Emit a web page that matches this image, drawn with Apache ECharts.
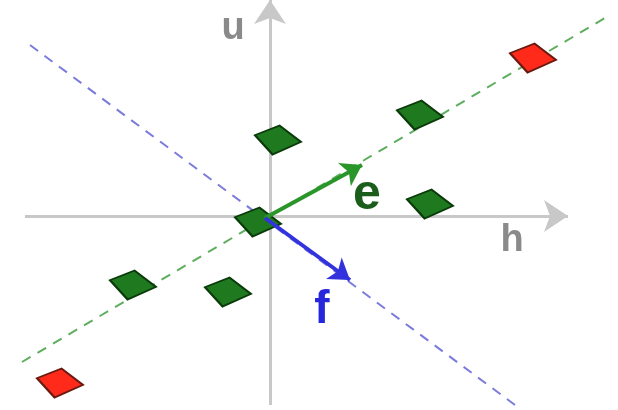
<!DOCTYPE html>
<html>
<head>
<meta charset="utf-8">
<script src="https://cdn.jsdelivr.net/npm/echarts@6/dist/echarts.min.js"></script>
<style>
  html, body { margin: 0; padding: 0; background: #fff; }
  #chart { width: 618px; height: 410px; }
</style>
</head>
<body>
<div id="chart"></div>
<script>
// data points (h, u)
const greenPoints = [[3.0, 2.02], [0.16, 1.52], [3.2, 0.24], [-0.24, -0.12], [-2.74, -1.38], [-0.84, -1.52]];
const redPoints = [[5.26, 3.16], [-4.2, -3.34]];
// dashed lines through the origin
const eLine = [[-4.96, -2.92], [6.7, 3.96]];
const fLine = [[-4.8, 3.42], [4.9, -3.78]];
// h and u axes
const hAxis = [[-4.9, 0], [5.96, 0]];
const uAxis = [[0, -3.78], [0, 4.32]];
// direction vectors
const origin = [-0.1, -0.04];
const eVec = [1.84, 1.02];
const fVec = [1.6, -1.28];
// labels
const labelNames = ["u", "h", "e", "f"];
const labelPos = [[-0.74, 3.74], [4.84, -0.5], [1.94, 0.42], [1.04, -1.88]];
const labelColors = ["#8a8a8a", "#8a8a8a", "#1b5e1b", "#2626dc"];
const labelSizes = [38, 38, 50, 46];

const chart = echarts.init(document.getElementById("chart"));

const diamond = "path://M0,10 L25,0 L47,17 L18,30 Z";

chart.setOption({
  backgroundColor: "#fff",
  animation: false,
  grid: { left: 0, right: 0, top: 0, bottom: 0 },
  xAxis: {
    type: "value", min: -5.4, max: 6.96, show: false,
  },
  yAxis: {
    type: "value", min: -3.88, max: 4.32, show: false,
  },
  series: [
    {
      type: "lines", coordinateSystem: "cartesian2d", z: 1,
      symbol: ["none", "arrow"], symbolSize: [18, 24],
      data: [{ coords: hAxis }, { coords: uAxis }],
      lineStyle: { color: "#c8c8c8", width: 3, opacity: 1 },
    },
    {
      type: "line", data: eLine, symbol: "none", clip: false, z: 2,
      lineStyle: { color: "#5fae5f", width: 2, type: [10, 8] },
    },
    {
      type: "line", data: fLine, symbol: "none", clip: false, z: 2,
      lineStyle: { color: "#7b7bdc", width: 2, type: [10, 8] },
    },
    {
      type: "scatter", data: greenPoints, symbol: diamond, symbolSize: [46, 29], z: 3,
      itemStyle: { color: "#1f7a1f", borderColor: "#0b3a0b", borderWidth: 2, opacity: 1 },
    },
    {
      type: "scatter", data: redPoints, symbol: diamond, symbolSize: [46, 29], z: 3,
      itemStyle: { color: "#ff2a1a", borderColor: "#6a1a10", borderWidth: 2, opacity: 1 },
    },
    {
      type: "lines", coordinateSystem: "cartesian2d", z: 4,
      symbol: ["none", "arrow"], symbolSize: 20,
      data: [
        { coords: [origin, eVec], lineStyle: { color: "#2a962a" } },
        { coords: [origin, fVec], lineStyle: { color: "#3333dd" } },
      ],
      lineStyle: { width: 4, opacity: 1 },
    },
    {
      type: "scatter", symbolSize: 0, z: 5,
      itemStyle: { opacity: 1 },
      data: labelNames.map((n, i) => ({
        value: labelPos[i],
        label: {
          show: true, position: "inside", formatter: n, opacity: 1,
          color: labelColors[i], fontSize: labelSizes[i], fontWeight: "bold",
          fontFamily: "Liberation Sans, Arial, sans-serif",
        },
      })),
    },
  ],
});
</script>
</body>
</html>
